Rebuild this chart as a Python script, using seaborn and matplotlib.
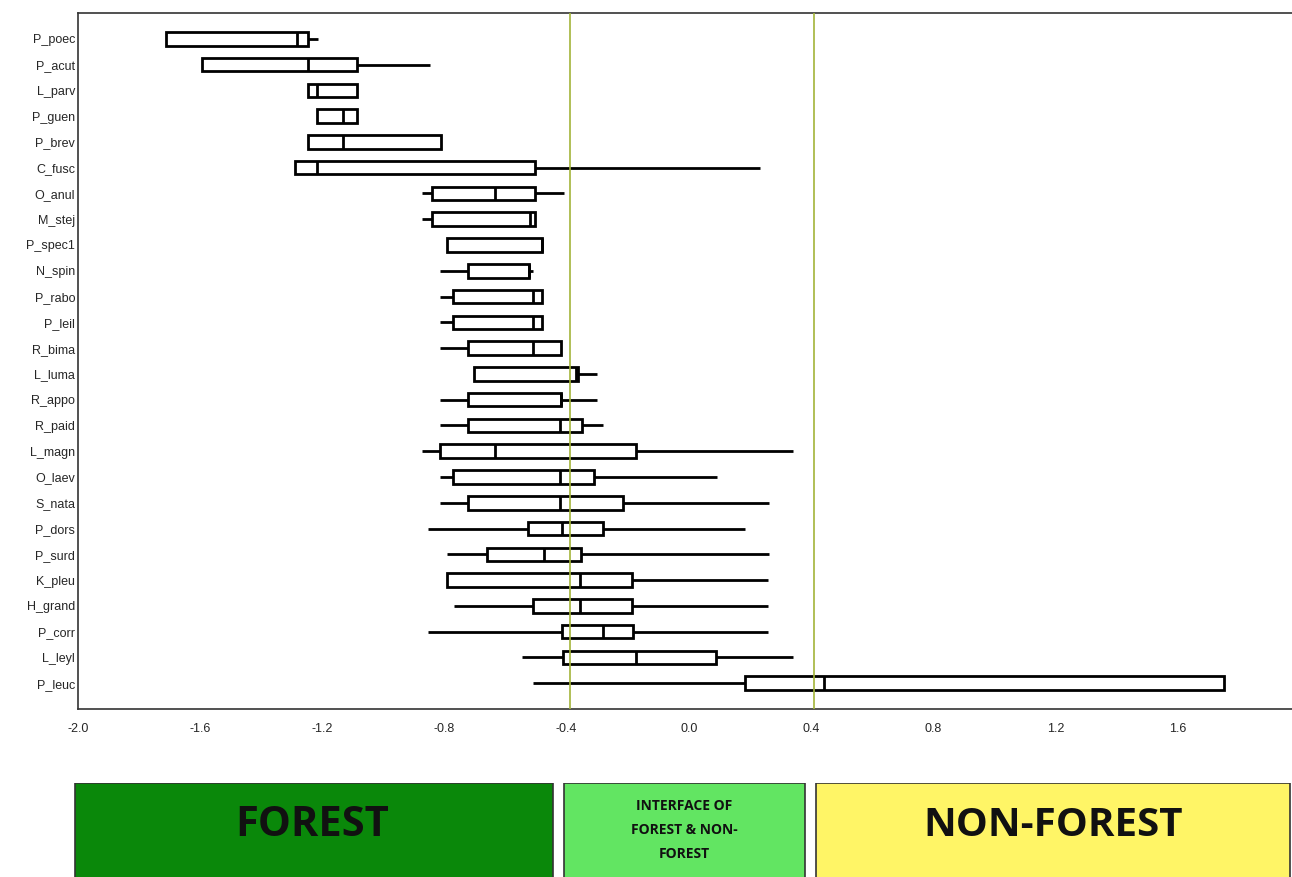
import pandas as pd
import matplotlib.pyplot as plt
import seaborn as sns
from matplotlib.patches import Rectangle

species = ["P_poec", "P_acut", "L_parv", "P_guen", "P_brev", "C_fusc", "O_anul",
           "M_stej", "P_spec1", "N_spin", "P_rabo", "P_leil", "R_bima", "L_luma",
           "R_appo", "R_paid", "L_magn", "O_laev", "S_nata", "P_dors", "P_surd",
           "K_pleu", "H_grand", "P_corr", "L_leyl", "P_leuc"]
whisker_lo = [-1.712, -1.594, -1.247, -1.218, -1.247, -1.290, -0.874, -0.874, -0.792,
              -0.815, -0.815, -0.815, -0.815, -0.704, -0.815, -0.815, -0.874, -0.815,
              -0.815, -0.854, -0.792, -0.792, -0.769, -0.854, -0.547, -0.511]
q1 = [-1.712, -1.594, -1.247, -1.218, -1.247, -1.290, -0.841, -0.841, -0.792,
      -0.723, -0.772, -0.772, -0.723, -0.704, -0.723, -0.723, -0.815, -0.772,
      -0.723, -0.527, -0.661, -0.792, -0.511, -0.416, -0.412, 0.183]
median = [-1.283, -1.247, -1.218, -1.133, -1.133, -1.218, -0.635, -0.520, -0.481,
          -0.524, -0.510, -0.510, -0.510, -0.370, -0.419, -0.422, -0.635, -0.422,
          -0.422, -0.416, -0.475, -0.357, -0.357, -0.281, -0.173, 0.442]
q3 = [-1.247, -1.087, -1.087, -1.087, -0.812, -0.504, -0.504, -0.504, -0.481,
      -0.524, -0.481, -0.481, -0.419, -0.363, -0.419, -0.350, -0.173, -0.311,
      -0.216, -0.281, -0.354, -0.187, -0.187, -0.183, 0.088, 1.751]
whisker_hi = [-1.214, -0.848, -1.087, -1.087, -0.812, 0.232, -0.409, -0.504, -0.481,
              -0.510, -0.481, -0.481, -0.419, -0.301, -0.301, -0.281, 0.340, 0.092,
              0.262, 0.183, 0.262, 0.259, 0.259, 0.259, 0.340, 1.751]
x_ticks = [-2.0, -1.6, -1.2, -0.8, -0.4, 0.0, 0.4, 0.8, 1.2, 1.6]
zone_lines = [-0.39, 0.41]

# five points per species -> quartiles and whisker ends come out exactly
rows = []
for i, sp in enumerate(species):
    for v in (whisker_lo[i], q1[i], median[i], q3[i], whisker_hi[i]):
        rows.append({"species": sp, "score": v})
df = pd.DataFrame(rows)

sns.set_style("white")
plt.rcParams["font.family"] = ["Liberation Sans", "DejaVu Sans"]

fig = plt.figure(figsize=(12.92, 8.77), dpi=100)
ax = fig.add_axes([78 / 1292, 168 / 877, 1214 / 1292, 696 / 877])

sns.boxplot(data=df, x="score", y="species", order=species, whis=(0, 100),
            width=0.53, color="white", saturation=1, linecolor="black",
            linewidth=2, showcaps=False, ax=ax)

for xv in zone_lines:
    ax.axvline(xv, color="#a3b43a", lw=1.2, zorder=5)

ax.set_xlim(-2.0, 1.975)
ax.set_ylim(len(species), -1)
ax.set_xticks(x_ticks)
ax.set_xticklabels([f"{t:.1f}" for t in x_ticks], fontsize=9)
ax.tick_params(axis="x", direction="out", length=4, width=1, color="#444444", pad=6)
ax.tick_params(axis="y", length=0, labelsize=9, pad=2)
ax.set_xlabel("")
ax.set_ylabel("")
for side in ["left", "bottom", "top"]:
    ax.spines[side].set_color("#333333")
    ax.spines[side].set_linewidth(1.2)
ax.spines["right"].set_visible(False)

# zone legend under the plot
lax = fig.add_axes([0, 0, 1, 94 / 877])
lax.set_xlim(0, 1292)
lax.set_ylim(0, 94)
lax.axis("off")
zones = [(75, 478, "#0a880a"), (564, 241, "#62e562"), (816, 474, "#fff566")]
for x0, w, c in zones:
    lax.add_patch(Rectangle((x0, -5), w, 99, facecolor=c, edgecolor="#333333", lw=1.2))

lax.text(312, 52, "FOREST", ha="center", va="center", fontsize=30,
         fontweight="bold", family=["Open Sans", "DejaVu Sans"], color="#111111")
lax.text(684, 47, "INTERFACE OF\nFOREST & NON-\nFOREST", ha="center", va="center",
         fontsize=10, fontweight="bold", linespacing=1.95,
         family=["Open Sans", "DejaVu Sans"], color="#111111")
lax.text(1053, 52, "NON-FOREST", ha="center", va="center", fontsize=29,
         fontweight="bold", family=["Open Sans", "DejaVu Sans"], color="#111111")

fig.savefig("out.png", dpi=100)
